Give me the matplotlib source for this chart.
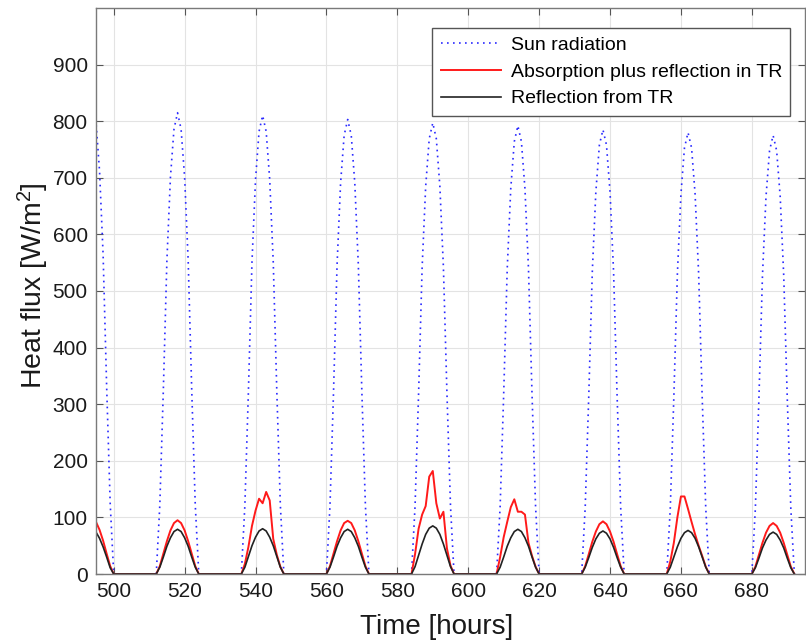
import numpy as np
import matplotlib
matplotlib.use("Agg")
import matplotlib.pyplot as plt

plt.rcParams['font.family'] = ['Liberation Sans', 'DejaVu Sans']
plt.rcParams['mathtext.fontset'] = 'custom'
plt.rcParams['mathtext.rm'] = 'Liberation Sans'
plt.rcParams['mathtext.it'] = 'Liberation Sans:italic'

# ---- data (hourly values, each day from sunrise hour to sunset hour) ----
day_starts = [488, 512, 536, 560, 584, 608, 632, 656, 680]

sun_radiation = [
    [0, 125, 332, 565, 712, 798, 825, 798, 712, 565, 332, 125, 0],
    [0, 122, 326, 554, 701, 786, 815, 786, 701, 554, 326, 122, 0],
    [0, 122, 324, 551, 697, 782, 810, 782, 697, 551, 324, 122, 0],
    [0, 120, 321, 546, 691, 775, 803, 775, 691, 546, 321, 120, 0],
    [0, 120, 319, 542, 685, 769, 797, 769, 685, 542, 319, 120, 0],
    [0, 119, 317, 539, 681, 764, 792, 764, 681, 539, 317, 119, 0],
    [0, 118, 314, 534, 675, 758, 785, 758, 675, 534, 314, 118, 0],
    [0, 117, 312, 530, 671, 753, 780, 753, 671, 530, 312, 117, 0],
    [0, 116, 310, 527, 667, 748, 775, 748, 667, 527, 310, 116, 0],
]

absorption_reflection = [
    [0, 14, 36, 59, 78, 92, 97, 92, 78, 59, 36, 14, 0],
    [0, 14, 36, 58, 77, 90, 95, 90, 77, 58, 36, 14, 0],
    [0, 18, 48, 85, 112, 133, 125, 145, 130, 62, 34, 13, 0],
    [0, 14, 36, 58, 77, 90, 94, 90, 77, 58, 36, 14, 0],
    [0, 35, 80, 105, 120, 172, 182, 125, 98, 110, 45, 15, 0],
    [0, 30, 65, 92, 118, 132, 110, 110, 105, 55, 32, 13, 0],
    [0, 14, 35, 57, 75, 88, 93, 88, 75, 57, 35, 14, 0],
    [0, 22, 55, 100, 137, 137, 115, 92, 70, 50, 32, 13, 0],
    [0, 13, 34, 55, 73, 85, 90, 85, 73, 55, 34, 13, 0],
]

reflection = [
    [0, 11, 30, 48, 63, 74, 78, 74, 63, 48, 30, 11, 0],
    [0, 12, 30, 49, 64, 75, 79, 75, 64, 49, 30, 12, 0],
    [0, 12, 31, 50, 65, 76, 80, 76, 65, 50, 31, 12, 0],
    [0, 12, 30, 49, 64, 75, 79, 75, 64, 49, 30, 12, 0],
    [0, 13, 33, 53, 70, 81, 85, 81, 70, 53, 33, 13, 0],
    [0, 12, 30, 49, 64, 75, 79, 75, 64, 49, 30, 12, 0],
    [0, 12, 29, 47, 62, 72, 76, 72, 62, 47, 29, 12, 0],
    [0, 12, 30, 48, 63, 73, 77, 73, 63, 48, 30, 12, 0],
    [0, 11, 28, 46, 60, 70, 74, 70, 60, 46, 28, 11, 0],
]

x_ticks = [500, 520, 540, 560, 580, 600, 620, 640, 660, 680]
y_ticks = [0, 100, 200, 300, 400, 500, 600, 700, 800, 900]


def build(series):
    t, v = [], []
    for start, prof in zip(day_starts, series):
        t.extend(start + np.arange(len(prof)))
        v.extend(prof)
    return np.array(t, float), np.array(v, float)


t_sun, v_sun = build(sun_radiation)
t_abs, v_abs = build(absorption_reflection)
t_ref, v_ref = build(reflection)

fig = plt.figure(figsize=(8.06, 6.43), dpi=100)
ax = fig.add_axes([96 / 806, 69 / 643, 709 / 806, 566 / 643])

ax.plot(t_sun, v_sun, color='#2a2aff', lw=1.2, linestyle=(0, (1, 2.6)),
        label='Sun radiation')
ax.plot(t_abs, v_abs, color='#ff1a1a', lw=1.4,
        label='Absorption plus reflection in TR')
ax.plot(t_ref, v_ref, color='#222222', lw=1.2, label='Reflection from TR')

ax.set_xlim(495, 695)
ax.set_ylim(0, 1000)
ax.set_xticks(x_ticks)
ax.set_yticks(y_ticks)
ax.tick_params(direction='in', length=5, width=0.8, top=True, right=True,
               labelsize=15, colors='#555555', labelcolor='#1a1a1a', pad=6)
ax.grid(True, color='#e3e3e3', lw=0.8)
ax.set_axisbelow(True)
for sp in ax.spines.values():
    sp.set_color('#7a7a7a')
    sp.set_linewidth(1.0)

ax.set_xlabel('Time [hours]', fontsize=20, color='#1a1a1a')
ax.set_ylabel(r'Heat flux [W/m$^2$]', fontsize=20.5, color='#1a1a1a')
ax.xaxis.set_label_coords(0.481, -0.071)
ax.yaxis.set_label_coords(-0.064, 0.51)

leg = ax.legend(loc='upper right', bbox_to_anchor=(0.979, 0.965),
                borderaxespad=0, fontsize=14, frameon=True, fancybox=False,
                framealpha=1, edgecolor='#555555', handlelength=3.1,
                handletextpad=0.5, labelspacing=0.48, borderpad=0.42)
leg.get_frame().set_linewidth(1.0)

fig.savefig('out.png', dpi=100)
